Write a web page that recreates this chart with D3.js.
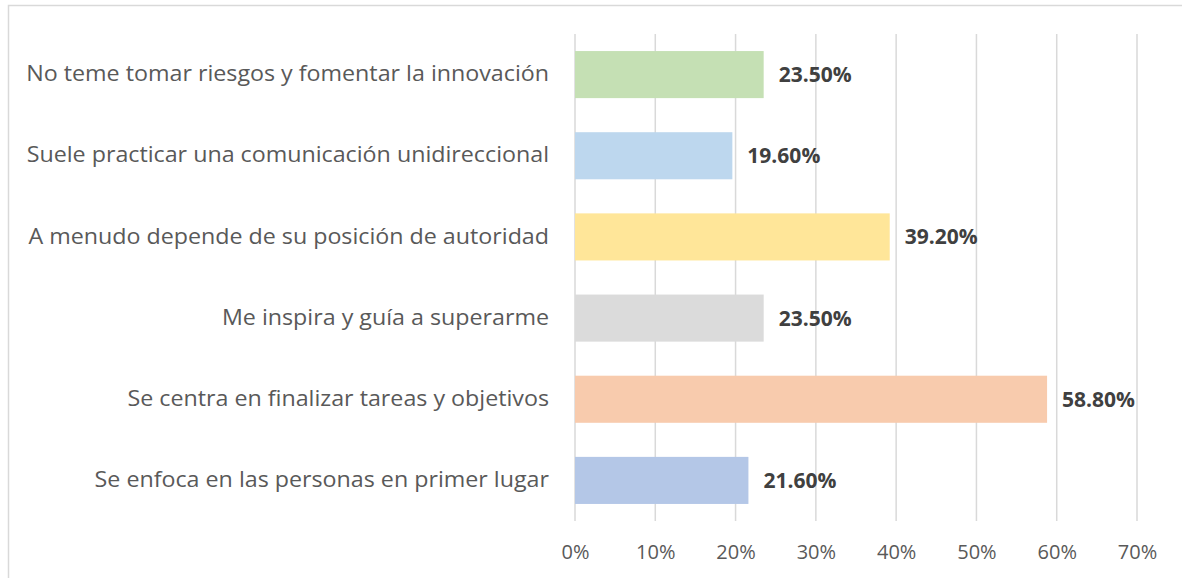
<!DOCTYPE html>
<html><head><meta charset="utf-8">
<script src="https://cdn.jsdelivr.net/npm/d3@7"></script>
<style>body{margin:0;background:#fff}svg{display:block}text{font-family:"Open Sans","Noto Sans",sans-serif}</style>
</head><body>
<svg id="c" width="1182" height="578"></svg>
<script>
const categories = [
  "No teme tomar riesgos y fomentar la innovación",
  "Suele practicar una comunicación unidireccional",
  "A menudo depende de su posición de autoridad",
  "Me inspira y guía a superarme",
  "Se centra en finalizar tareas y objetivos",
  "Se enfoca en las personas en primer lugar"
];
const values = [23.5, 19.6, 39.2, 23.5, 58.8, 21.6];
const colors = ["#C5E0B4", "#BDD7EE", "#FFE699", "#DBDBDB", "#F8CBAD", "#B4C7E7"];
const ticks = [0, 10, 20, 30, 40, 50, 60, 70];

const svg = d3.select("#c");
// chart border
svg.append("rect").attr("x", 8.5).attr("y", 5.5).attr("width", 1182).attr("height", 600)
  .attr("fill", "none").attr("stroke", "#D9D9D9").attr("stroke-width", 1.5);

const x = d3.scaleLinear().domain([0, 70]).range([575, 1137]);
const y = d3.scaleBand().domain(categories).range([34, 521]).paddingInner(0.42).paddingOuter(0.21);

// gridlines
svg.append("g").selectAll("line").data(ticks).join("line")
  .attr("x1", d => x(d)).attr("x2", d => x(d)).attr("y1", 34).attr("y2", 521)
  .attr("stroke", "#D9D9D9").attr("stroke-width", 1.5);

// x-axis labels
const xa = svg.append("g").attr("transform", "translate(0,552)")
  .call(d3.axisBottom(x).tickValues(ticks).tickFormat(d => d + "%").tickSize(0).tickPadding(0));
xa.select(".domain").remove();
xa.selectAll("text").attr("font-size", 20).attr("fill", "#595959")
  .attr("font-family", '"Open Sans","Noto Sans",sans-serif').attr("dy", "0.35em");

// y-axis labels
const ya = svg.append("g").attr("transform", "translate(549,0) scale(1.107,1)")
  .call(d3.axisLeft(y).tickSize(0).tickPadding(0));
ya.select(".domain").remove();
ya.selectAll("text").attr("font-size", 21).attr("fill", "#595959")
  .attr("font-family", '"Open Sans","Noto Sans",sans-serif');

// bars
svg.append("g").selectAll("rect").data(categories).join("rect")
  .attr("x", x(0)).attr("y", d => y(d))
  .attr("width", (d, i) => x(values[i]) - x(0)).attr("height", y.bandwidth())
  .attr("fill", (d, i) => colors[i]);

// value labels
svg.append("g").selectAll("text").data(categories).join("text")
  .attr("x", (d, i) => x(values[i]) + 15).attr("y", d => y(d) + y.bandwidth() / 2)
  .attr("dy", "0.36em").attr("font-size", 21).attr("font-weight", "bold").attr("fill", "#404040")
  .text((d, i) => values[i].toFixed(2) + "%");
</script>
</body></html>
